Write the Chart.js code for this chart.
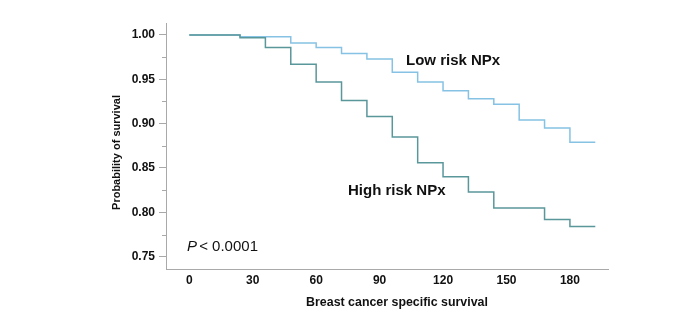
<!DOCTYPE html>
<html>
<head>
<meta charset="utf-8">
<script src="https://cdn.jsdelivr.net/npm/chart.js@4"></script>
<style>
  html, body { margin: 0; padding: 0; background: #fff; }
  #wrap { width: 681px; height: 323px; }
</style>
</head>
<body>
<div id="wrap"><canvas id="km"></canvas></div>
<script>
// Follow-up time points (months) and survival estimates per risk group
const months = [0, 12, 24, 36, 48, 60, 72, 84, 96, 108, 120, 132, 144, 156, 168, 180, 192];
const highRisk = [1.000, 1.000, 0.997, 0.986, 0.967, 0.947, 0.926, 0.908, 0.885, 0.856, 0.840, 0.823, 0.805, 0.805, 0.792, 0.784, 0.784];
const lowRisk = [1.000, 1.000, 0.998, 0.998, 0.991, 0.986, 0.979, 0.973, 0.958, 0.947, 0.937, 0.928, 0.922, 0.904, 0.895, 0.879, 0.879];
const xTicks = [0, 30, 60, 90, 120, 150, 180];
const yTicks = [0.75, 0.775, 0.80, 0.825, 0.85, 0.875, 0.90, 0.925, 0.95, 0.975, 1.00];

const FONT = '"Liberation Sans", Arial, sans-serif';
const AXIS_GREY = '#a9a9a9';

const toPoints = values => months.map((m, i) => ({ x: m, y: values[i] }));
const isMajor = v => Math.abs(Math.round(v * 20) - v * 20) < 1e-6;

// Labels, titles and the short minor ticks on the y axis
const annotations = {
  id: 'annotations',
  afterDraw(chart) {
    const ctx = chart.ctx;
    const y = chart.scales.y;
    const left = chart.chartArea.left;

    ctx.save();
    ctx.strokeStyle = AXIS_GREY;
    ctx.lineWidth = 1;
    yTicks.filter(v => !isMajor(v)).forEach(v => {
      const py = Math.round(y.getPixelForValue(v)) + 0.5;
      ctx.beginPath();
      ctx.moveTo(left - 4, py);
      ctx.lineTo(left, py);
      ctx.stroke();
    });

    ctx.fillStyle = '#111';
    ctx.textBaseline = 'alphabetic';

    ctx.font = 'bold 15px ' + FONT;
    ctx.textAlign = 'left';
    ctx.fillText('Low risk NPx', 406, 65);
    ctx.fillText('High risk NPx', 348, 195);

    ctx.font = 'italic 15px ' + FONT;
    ctx.fillText('P', 187, 250.5);
    const pw = ctx.measureText('P ').width;
    ctx.font = '15px ' + FONT;
    ctx.fillText('< 0.0001', 187 + pw - 2, 250.5);

    ctx.font = 'bold 12.4px ' + FONT;
    ctx.textAlign = 'center';
    ctx.textBaseline = 'middle';
    ctx.fillText('Breast cancer specific survival', 397, 303);

    ctx.font = 'bold 11px ' + FONT;
    ctx.translate(117, 152.5);
    ctx.rotate(-Math.PI / 2);
    ctx.fillText('Probability of survival', 0, 0);
    ctx.restore();
  }
};

new Chart(document.getElementById('km'), {
  type: 'line',
  data: {
    datasets: [
      {
        label: 'High risk NPx',
        data: toPoints(highRisk),
        borderColor: '#5a979b',
        borderWidth: 1.5,
        stepped: 'before',
        pointRadius: 0,
        fill: false
      },
      {
        label: 'Low risk NPx',
        data: toPoints(lowRisk),
        borderColor: '#86c2e4',
        borderWidth: 1.5,
        stepped: 'before',
        pointRadius: 0,
        fill: false
      }
    ]
  },
  options: {
    responsive: true,
    maintainAspectRatio: false,
    animation: false,
    layout: { padding: { left: 0, right: 73, top: 23, bottom: 0 } },
    plugins: {
      legend: { display: false },
      tooltip: { enabled: false }
    },
    scales: {
      x: {
        type: 'linear',
        min: -11,
        max: 198,
        afterBuildTicks: s => { s.ticks = xTicks.map(v => ({ value: v })); },
        afterFit: s => { s.height = 54; },
        grid: { display: true, drawOnChartArea: false, drawTicks: false },
        border: { color: AXIS_GREY, width: 1 },
        ticks: {
          padding: 4,
          color: '#111',
          font: { family: FONT, size: 12, weight: 'bold' },
          maxRotation: 0
        }
      },
      y: {
        type: 'linear',
        min: 0.7361,
        max: 1.0135,
        afterBuildTicks: s => { s.ticks = yTicks.map(v => ({ value: v })); },
        afterFit: s => { s.width = 166; },
        grid: {
          drawOnChartArea: false,
          drawTicks: true,
          tickLength: 7,
          tickColor: c => isMajor(c.tick.value) ? AXIS_GREY : 'rgba(0,0,0,0)'
        },
        border: { color: AXIS_GREY, width: 1 },
        ticks: {
          padding: 4,
          color: '#111',
          font: { family: FONT, size: 12, weight: 'bold' },
          callback: v => isMajor(v) ? v.toFixed(2) : ''
        }
      }
    }
  },
  plugins: [annotations]
});
</script>
</body>
</html>
